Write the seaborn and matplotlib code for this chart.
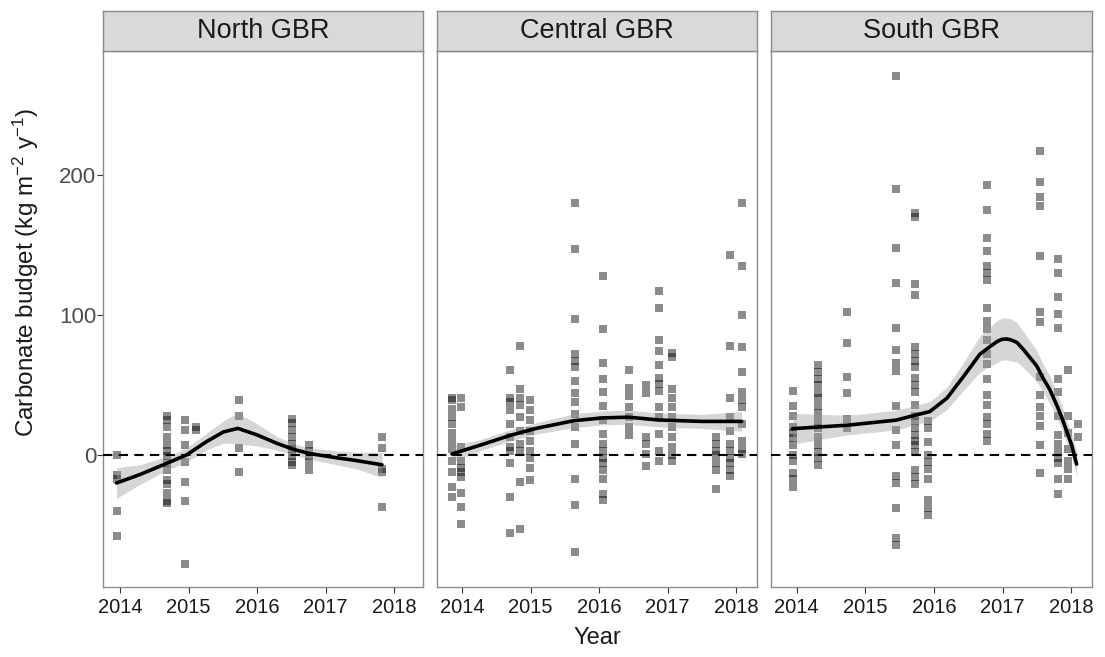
import numpy as np
import pandas as pd
import matplotlib
matplotlib.use("Agg")
import matplotlib.pyplot as plt
import seaborn as sns

# ---------------------------------------------------------------
# Reef carbonate budget surveys (kg m^-2 y^-1) by region and time
# ---------------------------------------------------------------
regions = ["North GBR", "Central GBR", "South GBR"]
year_ticks = [2014, 2015, 2016, 2017, 2018]
budget_ticks = [0, 100, 200]

north_surveys = [2013.95, 2014.68, 2014.95, 2015.11, 2015.73, 2016.51, 2016.76, 2017.82]
north_values = [
    [0, -14, -17, -40, -58],
    [28, 25, 20, 13, 7, 3, -1, -6, -11, -18, -21, -27, -33, -34],
    [25, 18, 7, -5, -19, -33, -78],
    [20, 18],
    [39, 28, 5, -12],
    [26, 23, 18, 13, 8, 4, -1, -5, -7],
    [7, 3, -1, -5, -11],
    [13, 5, -10, -12, -37],
]

central_surveys = [2013.85, 2013.98, 2014.70, 2014.85, 2014.99, 2015.64, 2016.05,
                   2016.43, 2016.69, 2016.87, 2017.06, 2017.71, 2017.91, 2018.08]
central_values = [
    [41, 39, 33, 27, 22, 16, 10, 4, -4, -12, -23, -30],
    [41, 34, 6, -4, -9, -12, -16, -27, -37, -49],
    [61, 41, 38, 32, 22, 13, 6, 3, -6, -30, -56],
    [78, 47, 41, 36, 27, 17, 8, 3, -19, -53],
    [39, 32, 25, 17, 10, 3, -2, -9, -18],
    [180, 147, 97, 72, 67, 63, 53, 44, 38, 29, 20, 8, -17, -36, -69],
    [128, 90, 66, 54, 45, 35, 25, 15, 8, 3, -2, -6, -11, -17, -28, -32],
    [61, 48, 42, 34, 27, 20, 14],
    [50, 44, 13, 8, 1, -8],
    [117, 105, 82, 74, 64, 55, 51, 46, 34, 27, 15, 3, -4],
    [73, 70, 47, 41, 34, 27, 20, 13, 6, 0, -4],
    [13, 8, 3, 0, -6, -11, -24],
    [143, 78, 41, 27, 17, 8, 3, -2, -6, -11, -15],
    [180, 135, 100, 77, 59, 45, 39, 34, 22, 10, 4, 1],
]

south_surveys = [2013.94, 2014.31, 2014.74, 2015.45, 2015.73, 2015.91,
                 2016.77, 2017.55, 2017.81, 2017.96, 2018.10]
south_values = [
    [46, 35, 28, 20, 16, 12, 7, 0, -4, -13, -17, -23],
    [64, 59, 54, 50, 44, 41, 35, 30, 24, 19, 13, 7, 2, -2, -7],
    [102, 80, 56, 44, 26, 19],
    [271, 190, 148, 123, 91, 75, 66, 60, 35, 18, 7, -15, -20, -38, -59, -64],
    [173, 170, 122, 114, 77, 72, 67, 63, 55, 50, 45, 36, 28, 24, 19, 14, 10, 7, 2, -11, -16, -21],
    [24, 19, 9, 0, -5, -10, -17, -32, -38, -43],
    [193, 175, 155, 146, 135, 130, 125, 105, 96, 90, 82, 72, 65, 54, 43, 36, 27, 22, 15, 10],
    [217, 195, 184, 178, 142, 102, 95, 56, 43, 34, 28, 21, 7, -13],
    [140, 130, 113, 101, 91, 54, 45, 28, 14, 8, 2, -2, -6, -17, -28],
    [61, 28, 16, 4, -4, -10, -17],
    [22, 13],
]

# Smoothed trend (fit, lower and upper confidence bound) per region
north_fit_year = [2013.95, 2014.29, 2014.68, 2014.97, 2015.26, 2015.51, 2015.72,
                  2015.99, 2016.28, 2016.53, 2016.77, 2017.16, 2017.45, 2017.82]
north_fit = [-20, -14, -6, 0, 9.5, 16.5, 19, 14.5, 8.5, 4, 1, -2, -4, -7]
north_fit_lo = [-31, -21, -11, -5, 3.5, 8.5, 8, 6.5, 3.5, 0, -3, -7, -10, -16]
north_fit_hi = [-9, -7, -1, 5, 15.5, 24.5, 30, 22.5, 13.5, 8, 5, 3, 2, 2]

central_fit_year = [2013.85, 2014.26, 2014.70, 2015.08, 2015.63, 2016.05,
                    2016.43, 2016.87, 2017.50, 2018.08]
central_fit = [0.7, 7, 14, 19, 24.5, 26.5, 27, 25, 24, 24]
central_fit_lo = [-5.3, 3, 10, 15, 19.5, 21.5, 22, 20, 19, 17]
central_fit_hi = [6.7, 11, 18, 23, 29.5, 31.5, 32, 30, 29, 31]

south_fit_year = [2013.94, 2014.74, 2015.45, 2015.73, 2015.94, 2016.19, 2016.43, 2016.67,
                  2016.82, 2016.92, 2016.99, 2017.06, 2017.13, 2017.21, 2017.30, 2017.40,
                  2017.50, 2017.59, 2017.69, 2017.79, 2017.86, 2017.94, 2018.01, 2018.08]
south_fit = [18.8, 21.3, 24.9, 28.5, 31, 40.6, 56, 72, 77.5, 81, 82.6, 82.9, 82.1, 80.4,
             75.6, 69.6, 63.5, 55, 46.6, 35.7, 27.3, 16.4, 6.8, -6.5]
south_fit_lo = [7.8, 14.3, 17.9, 21.5, 24, 32.6, 46, 59, 63.5, 66, 67.6, 67.9, 67.1, 66.4,
                62.6, 57.6, 52.5, 45, 36.6, 26.7, 18.3, 8.4, -1.2, -15.5]
south_fit_hi = [29.8, 28.3, 31.9, 35.5, 38, 48.6, 66, 85, 91.5, 96, 97.6, 97.9, 97.1, 94.4,
                88.6, 81.6, 74.5, 65, 56.6, 44.7, 36.3, 24.4, 14.8, 2.5]

x_limits = {
    "North GBR": (2013.757, 2018.423),
    "Central GBR": (2013.636, 2018.30),
    "South GBR": (2013.625, 2018.30),
}
y_limits = (-94.3, 288.8)

# ---------------------------------------------------------------
# Long-format tables
# ---------------------------------------------------------------
def survey_frame(region, surveys, values):
    rows = [(region, t, v) for t, col in zip(surveys, values) for v in col]
    return pd.DataFrame(rows, columns=["region", "year", "budget"])

obs = pd.concat([
    survey_frame("North GBR", north_surveys, north_values),
    survey_frame("Central GBR", central_surveys, central_values),
    survey_frame("South GBR", south_surveys, south_values),
], ignore_index=True)

fits = {
    "North GBR": pd.DataFrame({"year": north_fit_year, "fit": north_fit,
                               "lo": north_fit_lo, "hi": north_fit_hi}),
    "Central GBR": pd.DataFrame({"year": central_fit_year, "fit": central_fit,
                                 "lo": central_fit_lo, "hi": central_fit_hi}),
    "South GBR": pd.DataFrame({"year": south_fit_year, "fit": south_fit,
                               "lo": south_fit_lo, "hi": south_fit_hi}),
}

# ---------------------------------------------------------------
# Styling
# ---------------------------------------------------------------
sns.set_theme(style="white")
plt.rcParams["font.family"] = ["Liberation Sans", "DejaVu Sans"]
plt.rcParams["mathtext.fontset"] = "custom"
plt.rcParams["mathtext.rm"] = "Liberation Sans"
plt.rcParams["mathtext.it"] = "Liberation Sans:italic"

W, H = 1105, 657
fig = plt.figure(figsize=(W / 100, H / 100), dpi=100)
fig.patch.set_facecolor("white")

panel_px = {  # left, right edges in pixels
    "North GBR": (103.3, 423.3),
    "Central GBR": (437.3, 756.7),
    "South GBR": (771.0, 1091.7),
}
panel_top, panel_bottom, strip_top = 50.7, 587.0, 11.0
border_col = "#8c8c8c"
tick_col = "#4d4d4d"

for i, region in enumerate(regions):
    x0, x1 = panel_px[region]
    ax = fig.add_axes([x0 / W, 1 - panel_bottom / H, (x1 - x0) / W,
                       (panel_bottom - panel_top) / H])
    ax.set_facecolor("white")

    sub = obs[obs["region"] == region]
    sns.scatterplot(data=sub, x="year", y="budget", ax=ax, marker="s", s=36,
                    color="black", alpha=0.45, linewidth=0, zorder=2, legend=False)

    fd = fits[region]
    ax.fill_between(fd["year"], fd["lo"], fd["hi"], color="#999999",
                    alpha=0.4, linewidth=0, zorder=3)
    ax.axhline(0, color="black", linewidth=1.5, linestyle=(0, (4.5, 3)), zorder=4)
    sns.lineplot(data=fd, x="year", y="fit", ax=ax, color="black",
                 linewidth=2.6, zorder=5, legend=False)

    ax.set_xlim(*x_limits[region])
    ax.set_ylim(*y_limits)
    ax.set_xticks(year_ticks)
    ax.set_xticklabels([str(t) for t in year_ticks], fontsize=14.5, color="#1a1a1a")
    ax.set_yticks(budget_ticks)
    if i == 0:
        ax.set_yticklabels([str(t) for t in budget_ticks], fontsize=16, color=tick_col)
        ax.tick_params(axis="y", length=4, width=0.8, color="#333333", pad=1, left=True)
    else:
        ax.set_yticklabels([])
        ax.tick_params(axis="y", length=0, left=False)
    ax.tick_params(axis="x", length=4, width=0.8, color="#333333", pad=4, bottom=True)
    ax.set_xlabel("")
    ax.set_ylabel("")
    ax.grid(False)
    for sp in ax.spines.values():
        sp.set_visible(True)
        sp.set_color(border_col)
        sp.set_linewidth(1.0)

    # facet strip
    sax = fig.add_axes([x0 / W, 1 - panel_top / H, (x1 - x0) / W,
                        (panel_top - strip_top) / H])
    sax.set_facecolor("#d9d9d9")
    sax.set_xticks([])
    sax.set_yticks([])
    for sp in sax.spines.values():
        sp.set_visible(True)
        sp.set_color(border_col)
        sp.set_linewidth(1.0)
    sax.text(0.5, 0.5, region, ha="center", va="center", fontsize=19.5,
             color="#1a1a1a", transform=sax.transAxes)

fig.text(597.5 / W, 1 - 638 / H, "Year", ha="center", va="center",
         fontsize=17, color="#1a1a1a")
fig.text(26 / W, 1 - 272 / H, "Carbonate budget (kg m$^{-2}$ y$^{-1}$)",
         ha="center", va="center", rotation=90, fontsize=17.5, color="#1a1a1a")

fig.savefig("out.png", dpi=100, facecolor="white")
